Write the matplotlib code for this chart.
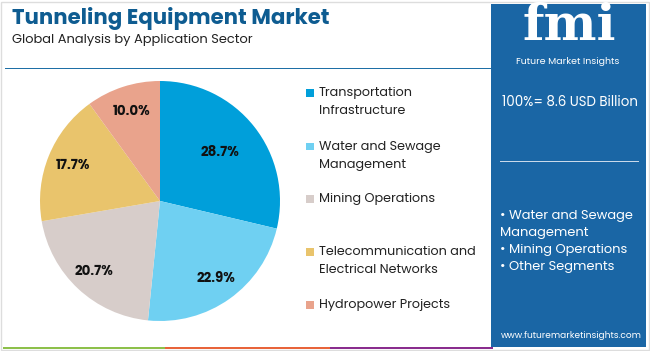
import numpy as np
import matplotlib.pyplot as plt
from matplotlib.patches import Rectangle

W, H = 650, 351

sectors = ['Transportation\nInfrastructure', 'Water and Sewage\nManagement', 'Mining Operations',
           'Telecommunication and\nElectrical Networks', 'Hydropower Projects']
shares = [28.7, 22.9, 20.7, 17.7, 10.0]
colors = ['#009fda', '#6fd0f2', '#d7cdca', '#e9c46c', '#e9a38c']
legend_y = [102, 156, 199, 261, 305]   # pixel rows of legend entries
side_items = ['• Water and Sewage\nManagement', '• Mining Operations', '• Other Segments']
total_text = '100%= 8.6 USD Billion'

plt.rcParams['font.family'] = ['Poppins', 'Noto Sans', 'DejaVu Sans']


def fx(x):
    return x / W


def fy(y):
    return 1 - y / H


fig = plt.figure(figsize=(6.5, 3.51), dpi=100)
fig.patch.set_facecolor('white')

# outer light border
fig.patches.append(Rectangle((fx(1), fy(350)), fx(648), 348 / H, transform=fig.transFigure,
                             fill=False, edgecolor='#dddddd', linewidth=1))

# title block
fig.text(fx(12), fy(18), 'Tunneling Equipment Market', fontsize=15.3, fontweight='bold',
         color='#0e5c91', va='center', ha='left')
fig.text(fx(12), fy(40), 'Global Analysis by Application Sector', fontsize=9.4,
         color='#222222', va='center', ha='left')
fig.patches.append(Rectangle((fx(5), fy(69)), fx(487), 1.5 / H, transform=fig.transFigure,
                             color='#1e6fa6', linewidth=0))

# bottom colour strip
for x0, x1, c in [(3, 165, '#8dc04a'), (165, 330, '#e8643a'), (330, 493, '#8a2d8e')]:
    fig.patches.append(Rectangle((fx(x0), fy(349)), fx(x1 - x0), 2.5 / H, transform=fig.transFigure,
                                 color=c, linewidth=0))

# pie
ax = fig.add_axes([fx(40), fy(321), fx(240), 240 / H])
wedges, _ = ax.pie(shares, colors=colors, startangle=90, counterclock=False,
                   wedgeprops=dict(linewidth=0))
ang = 90 - np.cumsum([0] + shares[:-1]) * 3.6 - np.array(shares) * 1.8
for a, s, r in zip(ang, shares, [0.64, 0.8, 0.81, 0.78, 0.78]):
    ax.text(r * np.cos(np.radians(a)), r * np.sin(np.radians(a)), f'{s:.1f}%',
            ha='center', va='center', fontsize=9.6, fontweight='bold', color='#111111')
ax.set_xlim(-1, 1)
ax.set_ylim(-1, 1)
ax.set_aspect('equal')
ax.axis('off')

# legend
for lab, c, y in zip(sectors, colors, legend_y):
    nlines = lab.count('\n') + 1
    top = y - (nlines - 1) * 9.5
    fig.patches.append(Rectangle((fx(306), fy(top + 4)), fx(8), 8 / H, transform=fig.transFigure,
                                 color=c, linewidth=0))
    fig.text(fx(319), fy(y), lab, fontsize=9.2, color='#222222', va='center', ha='left',
             linespacing=1.65)

# right blue panel
fig.patches.append(Rectangle((fx(491), fy(347)), fx(155), 343 / H, transform=fig.transFigure,
                             color='#1a66a5', linewidth=0))
fig.text(fx(569), fy(27), 'fmi', fontsize=36, fontweight='bold', family='DejaVu Serif',
         color='white', ha='center', va='center')
fig.text(fx(568), fy(61), 'Future Market Insights', fontsize=6.8, color='white',
         ha='center', va='center')
fig.text(fx(570), fy(102), total_text, fontsize=9.6, color='white', ha='center', va='center')
fig.patches.append(Rectangle((fx(500), fy(162)), fx(139), 1 / H, transform=fig.transFigure,
                             color='#c9d9ea', linewidth=0))
fig.text(fx(500), fy(210), '\n'.join(side_items), fontsize=9.4, color='white',
         ha='left', va='top', linespacing=1.57)
fig.text(fx(571), fy(335), 'www.futuremarketinsights.com', fontsize=6.5, color='white',
         ha='center', va='center')

fig.savefig('out.png', dpi=100)
